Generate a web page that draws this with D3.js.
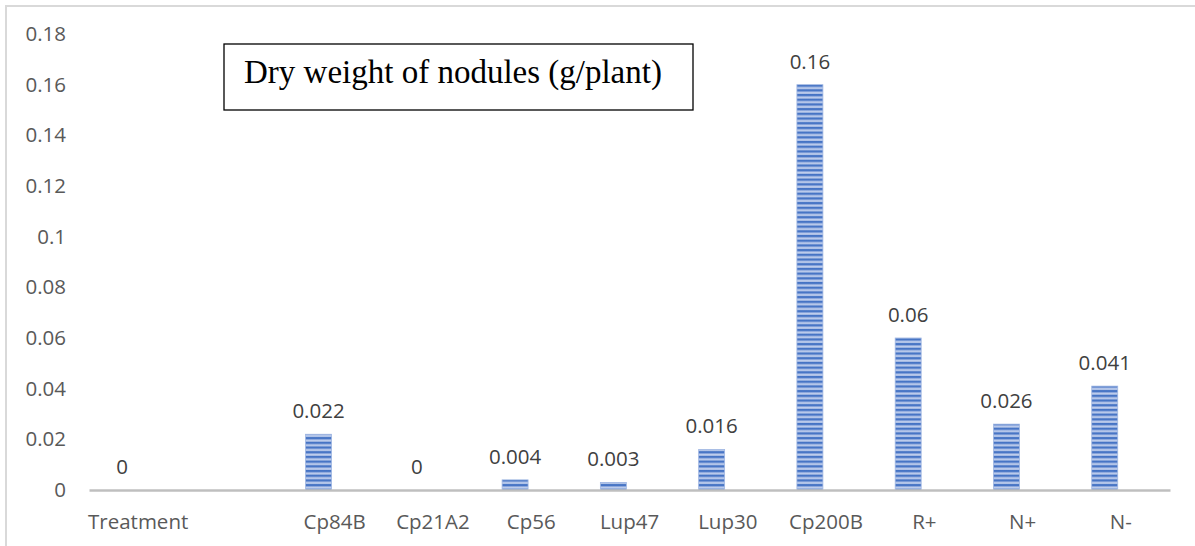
<!DOCTYPE html>
<html>
<head>
<meta charset="utf-8">
<script src="https://cdn.jsdelivr.net/npm/d3@7"></script>
<style>
  html, body { margin: 0; padding: 0; background: #fff; }
  svg { display: block; }
</style>
</head>
<body>
<svg id="chart" width="1195" height="546"></svg>
<script>
const categories = ["Treatment", "", "Cp84B", "Cp21A2", "Cp56", "Lup47", "Lup30", "Cp200B", "R+", "N+", "N-"];
const dryWeight = [0, null, 0.022, 0, 0.004, 0.003, 0.016, 0.16, 0.06, 0.026, 0.041];
const seriesNames = ["dry", "other"];
const yTicks = [0, 0.02, 0.04, 0.06, 0.08, 0.1, 0.12, 0.14, 0.16, 0.18];
const titleText = "Dry weight of nodules (g/plant)";

const svg = d3.select("#chart");
const W = 1195, H = 546;

// outer chart frame
svg.append("rect")
  .attr("x", 6).attr("y", 6).attr("width", W + 20).attr("height", H + 20)
  .attr("fill", "none").attr("stroke", "#d9d9d9").attr("stroke-width", 2);

// stripe pattern (soft horizontal stripes)
const defs = svg.append("defs");
const grad = defs.append("linearGradient")
  .attr("id", "stripeGrad").attr("x1", 0).attr("x2", 0).attr("y1", 0).attr("y2", 1);
grad.append("stop").attr("offset", "0%").attr("stop-color", "#4472c4");
grad.append("stop").attr("offset", "40%").attr("stop-color", "#4a77c6");
grad.append("stop").attr("offset", "55%").attr("stop-color", "#a9bde6");
grad.append("stop").attr("offset", "80%").attr("stop-color", "#ccd8f0");
grad.append("stop").attr("offset", "100%").attr("stop-color", "#8fa9dc");
const pat = defs.append("pattern")
  .attr("id", "hstripe")
  .attr("patternUnits", "userSpaceOnUse")
  .attr("width", 8).attr("height", 4.7);
pat.append("rect").attr("width", 8).attr("height", 4.7).attr("fill", "url(#stripeGrad)");

const x = d3.scaleBand().domain(categories).range([89, 1170]).paddingInner(0).paddingOuter(0);
const x1 = d3.scaleBand().domain(seriesNames).range([0, x.bandwidth()]).paddingInner(0.195).paddingOuter(0.62);
const y = d3.scaleLinear().domain([0, 0.18]).range([490, 34]);

const font = "'Open Sans', 'Noto Sans', sans-serif";

// bars
const data = categories.map((c, i) => ({ cat: c, v: dryWeight[i] }));
svg.append("g").selectAll("rect")
  .data(data.filter(d => d.v !== null && d.v > 0))
  .join("rect")
  .attr("x", d => x(d.cat) + x1("dry"))
  .attr("width", x1.bandwidth())
  .attr("y", d => y(d.v))
  .attr("height", d => y(0) - y(d.v))
  .attr("fill", "url(#hstripe)")
  .attr("stroke", "#9fb6e2")
  .attr("stroke-width", 0.8);

// x axis
const xAxis = svg.append("g")
  .attr("transform", `translate(0,${y(0)})`)
  .call(d3.axisBottom(x).tickSize(0).tickSizeOuter(0).tickPadding(24));
xAxis.select(".domain").attr("stroke", "#bfbfbf").attr("stroke-width", 2.6);
xAxis.selectAll("text")
  .attr("font-family", font).attr("font-size", 20.5).attr("fill", "#595959");

// y axis
const yAxis = svg.append("g")
  .attr("transform", `translate(89,0)`)
  .call(d3.axisLeft(y).tickValues(yTicks).tickFormat(d => String(+d.toFixed(2))).tickSize(0).tickPadding(23));
yAxis.select(".domain").remove();
yAxis.selectAll("text")
  .attr("font-family", font).attr("font-size", 20.5).attr("fill", "#595959");

// value labels
svg.append("g").selectAll("text")
  .data(data.filter(d => d.v !== null))
  .join("text")
  .attr("x", d => x(d.cat) + x1("dry") + x1.bandwidth() / 2)
  .attr("y", d => y(d.v) - 16)
  .attr("text-anchor", "middle")
  .attr("font-family", font).attr("font-size", 20.5).attr("fill", "#404040")
  .text(d => String(d.v));

// title box
svg.append("rect")
  .attr("x", 224).attr("y", 44).attr("width", 469).attr("height", 66)
  .attr("fill", "#fff").attr("stroke", "#000").attr("stroke-width", 1.3);
svg.append("text")
  .attr("x", 244).attr("y", 83)
  .attr("font-family", "'Liberation Serif', 'Times New Roman', serif")
  .attr("font-size", 33).attr("fill", "#000")
  .text(titleText);
</script>
</body>
</html>
